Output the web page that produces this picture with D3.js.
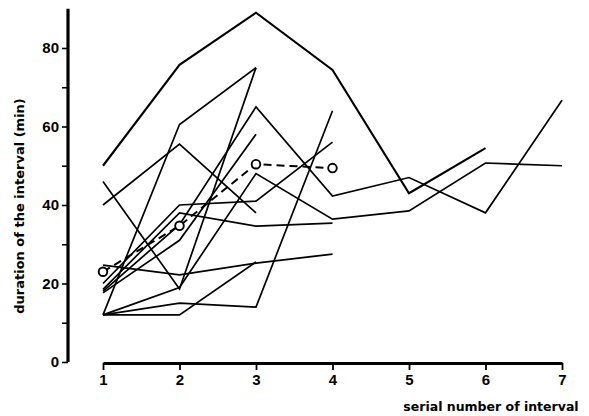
<!DOCTYPE html>
<html>
<head>
<meta charset="utf-8">
<script src="https://cdn.jsdelivr.net/npm/d3@7"></script>
<style>
  html, body { margin: 0; padding: 0; background: #fff; }
  svg { display: block; }
  text { font-family: "DejaVu Sans", sans-serif; fill: #000; }
</style>
</head>
<body>
<svg id="chart" width="589" height="416"></svg>
<script>
// Duration of successive intervals (min), one array per individual record,
// values start at interval 1.
const intervalTicks = [1, 2, 3, 4, 5, 6, 7];
const yTickValues = [0, 10, 20, 30, 40, 50, 60, 70, 80];
const yTickLabels = ["0", "", "20", "", "40", "", "60", "", "80"];

const s01 = [50, 75.7, 89, 74.4, 43, 54.5];
const s02 = [40, 55.5, 38];
const s03 = [46, 18.6, 75];
const s04 = [12, 60.5, 75];
const s05 = [18, 35, 65, 42.3, 47, 38, 66.7];
const s06 = [12, 19, 48, 36.4, 38.5, 50.7, 50];
const s07 = [20, 40, 41, 56];
const s08 = [17.6, 31, 58];
const s09 = [18.5, 38, 34.6, 35.4];
const s10 = [24.7, 22.2, 25.2, 27.5];
const s11 = [12, 15, 14, 64];
const s12 = [12, 12, 25.5];
const records = [s01, s02, s03, s04, s05, s06, s07, s08, s09, s10, s11, s12];

// mean duration per interval
const meanValues = [23, 34.7, 50.4, 49.4];

const svg = d3.select("#chart");

const x = d3.scaleLinear().domain([1, 7]).range([103, 562]);
const y = d3.scaleLinear().domain([0, 90]).range([362, 8.75]);

const line = d3.line()
  .x((d, i) => x(i + 1))
  .y(d => y(d));

// individual records
svg.append("g")
  .selectAll("path")
  .data(records)
  .join("path")
  .attr("d", d => line(d))
  .attr("fill", "none")
  .attr("stroke", "#000")
  .attr("stroke-width", (d, i) => i === 0 ? 2.1 : 1.7)
  .attr("stroke-linejoin", "miter");

// mean line, dashed with open circles
svg.append("path")
  .attr("d", line(meanValues))
  .attr("fill", "none")
  .attr("stroke", "#000")
  .attr("stroke-width", 2)
  .attr("stroke-dasharray", "8,5");

svg.append("g")
  .selectAll("circle")
  .data(meanValues)
  .join("circle")
  .attr("cx", (d, i) => x(i + 1))
  .attr("cy", d => y(d))
  .attr("r", 4.3)
  .attr("fill", "#fff")
  .attr("stroke", "#000")
  .attr("stroke-width", 1.9);

// y axis
const yAxis = d3.axisLeft(y)
  .tickValues(yTickValues)
  .tickFormat((d, i) => yTickLabels[i])
  .tickSize(6)
  .tickSizeOuter(0)
  .tickPadding(3);

const gy = svg.append("g")
  .attr("transform", "translate(68,0)")
  .call(yAxis);
gy.select(".domain").attr("stroke-width", 3.2).attr("d", `M0,${y(0)}V${y(90)}`);
gy.selectAll(".tick line").attr("stroke-width", 1.6);
gy.selectAll(".tick text")
  .style("font-family", "'Liberation Sans', sans-serif")
  .style("font-weight", "bold")
  .style("font-size", "15px");

// x axis
const xAxis = d3.axisBottom(x)
  .tickValues(intervalTicks)
  .tickFormat(d3.format("d"))
  .tickSize(7)
  .tickSizeOuter(0)
  .tickPadding(4);

const gx = svg.append("g")
  .attr("transform", "translate(0,363)")
  .call(xAxis);
gx.select(".domain").attr("stroke-width", 3);
gx.selectAll(".tick line").attr("stroke-width", 1.8);
gx.selectAll(".tick text")
  .style("font-family", "'Liberation Sans', sans-serif")
  .style("font-weight", "bold")
  .style("font-size", "15px");

// axis titles
svg.append("text")
  .attr("transform", "translate(24,206) rotate(-90)")
  .attr("text-anchor", "middle")
  .style("font-weight", "bold")
  .style("font-size", "13px")
  .text("duration of the interval (min)");

svg.append("text")
  .attr("x", 491)
  .attr("y", 411)
  .attr("text-anchor", "middle")
  .style("font-weight", "bold")
  .style("font-size", "12.5px")
  .text("serial number of interval");
</script>
</body>
</html>
